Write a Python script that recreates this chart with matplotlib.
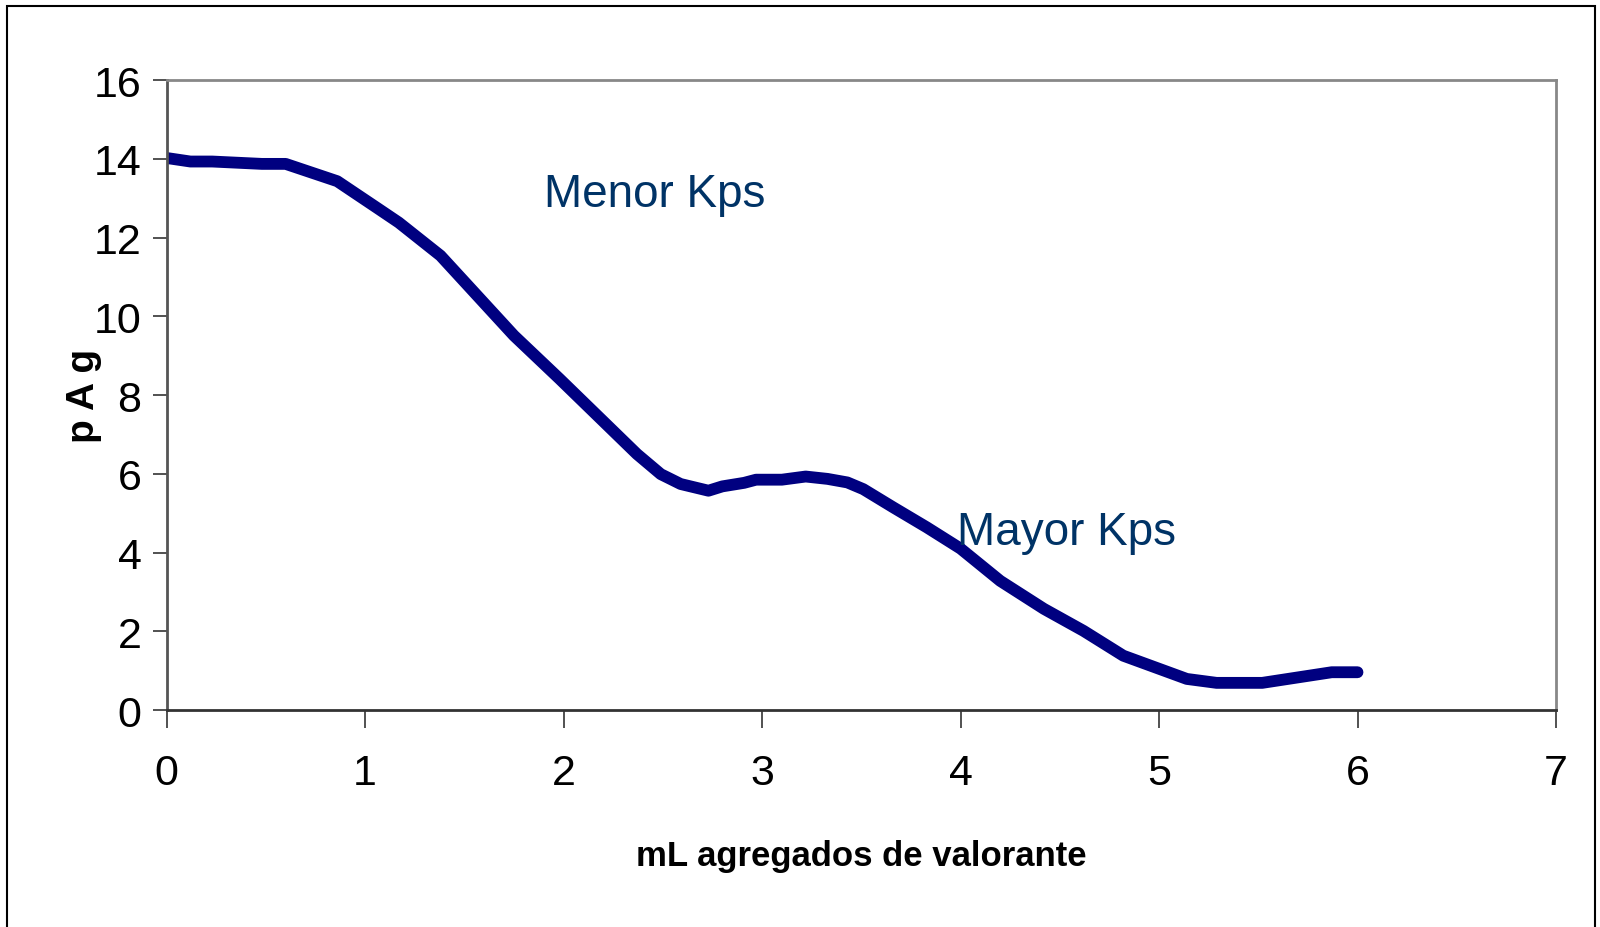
import matplotlib
matplotlib.use('Agg')
import matplotlib.pyplot as plt
from matplotlib.patches import Rectangle

# titration curve
ml_added = [0, 0.12, 0.23, 0.48, 0.6, 0.86, 1.07, 1.17, 1.38, 1.75, 1.98,
            2.37, 2.49, 2.59, 2.73, 2.8, 2.91, 2.97, 3.1, 3.22, 3.33, 3.43,
            3.51, 3.66, 3.83, 4.0, 4.2, 4.42, 4.62, 4.82, 5.14, 5.29, 5.52,
            5.87, 6.0]
pag = [14.02, 13.93, 13.93, 13.87, 13.87, 13.43, 12.72, 12.38, 11.54, 9.51, 8.41,
       6.5, 5.99, 5.74, 5.57, 5.68, 5.77, 5.85, 5.85, 5.93, 5.87, 5.78,
       5.61, 5.15, 4.64, 4.1, 3.28, 2.57, 2.01, 1.38, 0.79, 0.69, 0.69,
       0.96, 0.96]

x_ticks = [0, 1, 2, 3, 4, 5, 6, 7]
y_ticks = [0, 2, 4, 6, 8, 10, 12, 14, 16]

fam = ['Liberation Sans', 'DejaVu Sans']

fig = plt.figure(figsize=(16, 9.28), dpi=100)
ax = fig.add_axes([0.1041, 0.2338, 0.8684, 0.6789])

# outer chart border (bottom edge runs off the picture)
fig.patches.append(Rectangle((7 / 1600, -0.01), 1588 / 1600, (921 / 928) + 0.01,
                             transform=fig.transFigure, fill=False,
                             edgecolor='black', linewidth=1.5))

ax.plot(ml_added, pag, color='#000080', linewidth=8.5,
        solid_capstyle='round', solid_joinstyle='round')

ax.set_xlim(0, 7)
ax.set_ylim(0, 16)
ax.set_xticks(x_ticks)
ax.set_yticks(y_ticks)

for lbl in ax.get_xticklabels() + ax.get_yticklabels():
    lbl.set_family(fam)
    lbl.set_fontsize(31)

ax.tick_params(axis='x', direction='out', length=13, width=1.2,
               color='#333333', pad=18)
ax.tick_params(axis='y', direction='out', length=10, width=1.2,
               color='#333333', pad=8)

ax.spines['top'].set_color('#888888')
ax.spines['right'].set_color('#888888')
ax.spines['left'].set_color('#555555')
ax.spines['bottom'].set_color('#333333')
for s in ax.spines.values():
    s.set_linewidth(2)

ax.set_xlabel('mL agregados de valorante', fontsize=25, fontweight='bold',
              family=fam, labelpad=33)
ax.set_ylabel('p A g', fontsize=28, fontweight='bold', family=fam, labelpad=-6)

ax.text(1.9, 12.8, 'Menor Kps', fontsize=33, color='#003366', family=fam)
ax.text(3.98, 4.22, 'Mayor Kps', fontsize=33, color='#003366', family=fam)

fig.savefig('out.png', dpi=100)
